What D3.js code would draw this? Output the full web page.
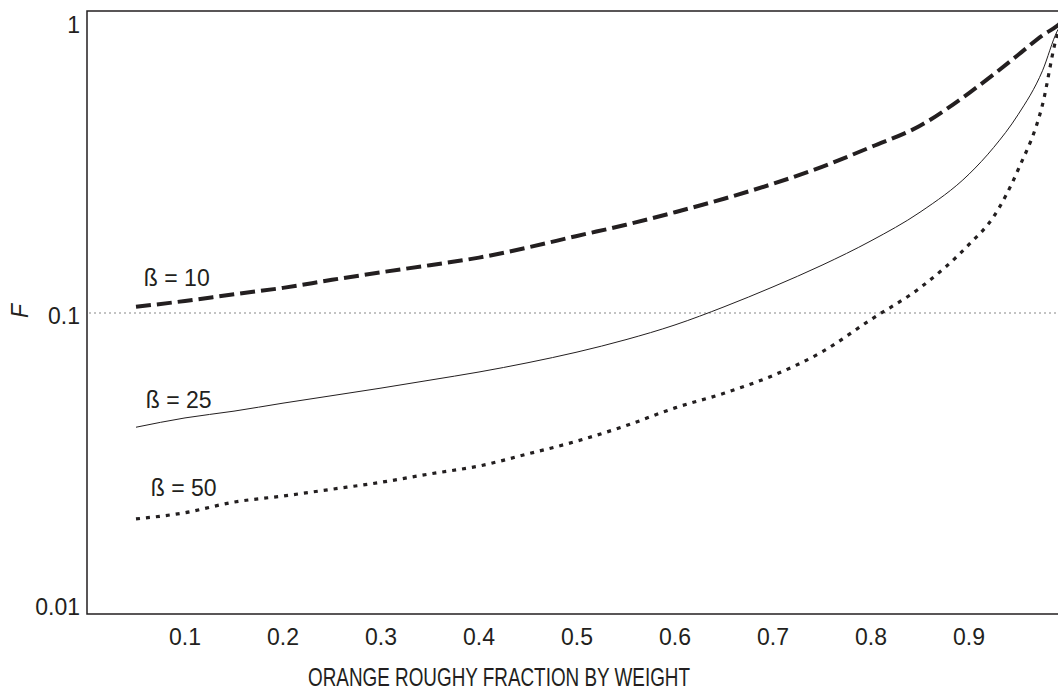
<!DOCTYPE html>
<html>
<head>
<meta charset="utf-8">
<script src="https://cdn.jsdelivr.net/npm/d3@7"></script>
<style>
  body { margin: 0; background: #fff; }
  text { font-family: "Liberation Sans", Arial, sans-serif; fill: #231f20; }
</style>
</head>
<body>
<svg id="chart" width="1058" height="692"></svg>
<script>
// orange roughy fraction (x) and F for three beta values
const fraction = [0.05, 0.1, 0.15, 0.2, 0.25, 0.3, 0.35, 0.4, 0.45, 0.5, 0.55, 0.6, 0.65, 0.7, 0.75, 0.8, 0.85, 0.9, 0.925, 0.95, 0.975, 0.99, 1.0];
const beta10 = [0.105, 0.110, 0.116, 0.122, 0.130, 0.138, 0.146, 0.155, 0.168, 0.184, 0.201, 0.222, 0.247, 0.278, 0.318, 0.372, 0.44, 0.57, 0.66, 0.77, 0.90, 0.97, 1.04];
const beta25 = [0.0405, 0.0436, 0.046, 0.049, 0.052, 0.0552, 0.0588, 0.0627, 0.0675, 0.0734, 0.081, 0.091, 0.105, 0.123, 0.146, 0.177, 0.222, 0.30, 0.37, 0.48, 0.68, 0.93, 1.04];
const beta50 = [0.0196, 0.0206, 0.0224, 0.0235, 0.0248, 0.0262, 0.028, 0.0298, 0.0328, 0.0363, 0.041, 0.0472, 0.053, 0.061, 0.0735, 0.095, 0.122, 0.172, 0.214, 0.31, 0.52, 0.9, 1.04];

const xTicks = [0.1, 0.2, 0.3, 0.4, 0.5, 0.6, 0.7, 0.8, 0.9, 1];
const yTicks = [0.01, 0.1, 1];
const yTickLabels = ['0.01', '0.1', '1'];
const seriesLabels = ['ß = 10', 'ß = 25', 'ß = 50'];
const refLine = 0.1;

const svg = d3.select('#chart');
const x = d3.scaleLinear().domain([0, 1]).range([87, 1067]);
const y = d3.scaleLog().domain([0.01, 1]).range([604, 22]);
const frameTop = 11, frameBottom = 614;

// frame (right side runs off the page)
svg.append('path')
  .attr('d', `M1100,${frameTop}H${x(0)}V${frameBottom}H1100`)
  .attr('fill', 'none')
  .attr('stroke', '#231f20')
  .attr('stroke-width', 1.5);

// reference line at F = 0.1
svg.append('line')
  .attr('x1', x(0) + 2).attr('x2', 1100)
  .attr('y1', y(refLine)).attr('y2', y(refLine))
  .attr('stroke', '#888').attr('stroke-width', 1.2)
  .attr('stroke-dasharray', '2,3');

// tick labels
svg.append('g').selectAll('text')
  .data(yTicks)
  .join('text')
  .attr('x', 80)
  .attr('y', d => y(d) + 11)
  .attr('text-anchor', 'end')
  .style('font-size', '23px')
  .text((d, i) => yTickLabels[i]);

svg.append('g').selectAll('text')
  .data(xTicks)
  .join('text')
  .attr('x', d => x(d))
  .attr('y', 645)
  .attr('text-anchor', 'middle')
  .style('font-size', '23px')
  .text(d => d3.format('')(d));

// axis titles
svg.append('text')
  .attr('x', 499).attr('y', 686)
  .attr('text-anchor', 'middle')
  .attr('textLength', 382)
  .attr('lengthAdjust', 'spacingAndGlyphs')
  .style('font-size', '25px')
  .text('ORANGE ROUGHY FRACTION BY WEIGHT');

svg.append('text')
  .attr('transform', 'translate(28,311) rotate(-90)')
  .attr('text-anchor', 'middle')
  .style('font-style', 'italic')
  .style('font-size', '23px')
  .text('F');

// curves
const line = d3.line()
  .x(d => x(d[0]))
  .y(d => y(d[1]))
  .curve(d3.curveMonotoneX);

const series = [
  { values: beta10, width: 4, dash: '15,6' },
  { values: beta25, width: 1, dash: null },
  { values: beta50, width: 3.2, dash: '4,6' }
];

svg.append('g').selectAll('path')
  .data(series)
  .join('path')
  .attr('d', s => line(fraction.map((f, i) => [f, s.values[i]])))
  .attr('fill', 'none')
  .attr('stroke', '#231f20')
  .attr('stroke-width', s => s.width)
  .attr('stroke-dasharray', s => s.dash);

// beta labels
const labelPos = [[0.058, 0.124], [0.06, 0.047], [0.065, 0.0235]];
svg.append('g').selectAll('text')
  .data(seriesLabels)
  .join('text')
  .attr('x', (d, i) => x(labelPos[i][0]))
  .attr('y', (d, i) => y(labelPos[i][1]))
  .style('font-size', '23px')
  .text(d => d);
</script>
</body>
</html>
